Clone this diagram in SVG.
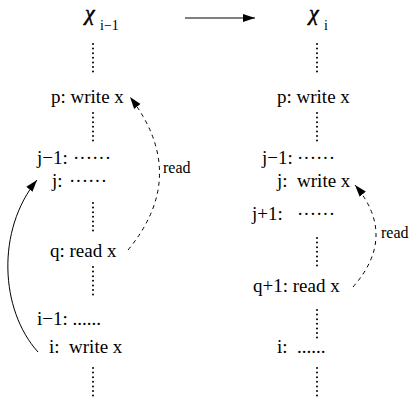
<svg xmlns="http://www.w3.org/2000/svg" width="409" height="401" viewBox="0 0 409 401">
<style>
text{font-family:"Liberation Serif","Times New Roman",serif;fill:#000;white-space:pre}
.t{font-size:19px}
.s{font-size:16px}
.chi{font-size:22px;font-style:italic;stroke:#000;stroke-width:0.5}
.sub{font-size:14px}
.vd{stroke:#000;stroke-width:2;stroke-linecap:round;stroke-dasharray:0 4.6;fill:none}
.c{stroke:#000;stroke-width:1;fill:none}
.d{stroke:#000;stroke-width:1;fill:none;stroke-dasharray:4 4}
</style>
<defs>
<marker id="ah" markerUnits="userSpaceOnUse" markerWidth="14" markerHeight="10" refX="12" refY="4" orient="auto" viewBox="0 0 14 8">
<path d="M0,0 L12,4 L0,8 Z" fill="#000"/>
</marker>
</defs>
<rect width="409" height="401" fill="#fff"/>
<g id="state-left">
<text class="chi" x="85" y="20">χ</text><text class="sub" x="100" y="30">i−1</text>
</g>
<g id="state-right">
<text class="chi" x="309" y="20">χ</text><text class="sub" x="324" y="30">i</text>
</g>
<g id="left-column">
<line class="vd" x1="93" y1="44" x2="93" y2="72"/>
<text id="lp" class="t" x="51" y="103">p: write x</text>
<line class="vd" x1="93" y1="113" x2="93" y2="142"/>
<text id="lj1" class="t" x="37" y="164">j−1: </text><text class="t" x="73" y="164">······</text>
<text id="lj" class="t" x="52" y="187">j: </text><text class="t" x="69" y="187">······</text>
<line class="vd" x1="93" y1="203" x2="93" y2="231"/>
<text id="lq" class="t" x="50" y="257">q: read x</text>
<line class="vd" x1="93" y1="267" x2="93" y2="295"/>
<text id="li1" class="t" x="37" y="325">i−1: ......</text>
<text id="li" class="t" x="49" y="353">i:  write x</text>
<line class="vd" x1="93" y1="368" x2="93" y2="397"/>
</g>
<g id="right-column">
<line class="vd" x1="317" y1="44" x2="317" y2="72"/>
<text id="rp" class="t" x="277" y="103">p: write x</text>
<line class="vd" x1="317" y1="113" x2="317" y2="142"/>
<text id="rj1" class="t" x="262" y="164">j−1: </text><text class="t" x="297" y="164">······</text>
<text id="rj" class="t" x="277" y="187">j:  write x</text>
<text id="rjp1" class="t" x="252" y="220">j+1: </text><text class="t" x="297" y="220">······</text>
<line class="vd" x1="317" y1="238" x2="317" y2="268"/>
<text id="rq1" class="t" x="253" y="292">q+1: read x</text>
<line class="vd" x1="317" y1="310" x2="317" y2="339"/>
<text id="ri" class="t" x="277" y="353">i:  ......</text>
<line class="vd" x1="317" y1="368" x2="317" y2="397"/>
</g>
<g id="connectors">
<line class="c" x1="185" y1="18" x2="255" y2="18" marker-end="url(#ah)"/>
<path class="c" d="M38,352 C0,310 -4,230 37,180" marker-end="url(#ah)"/>
<path class="d" d="M128,250 Q190,175 130,97" marker-end="url(#ah)"/>
<path class="d" d="M353,287 Q398,236 355,185" marker-end="url(#ah)"/>
<text class="s" x="163" y="173">read</text>
<text class="s" x="381" y="238">read</text>
</g>
</svg>
